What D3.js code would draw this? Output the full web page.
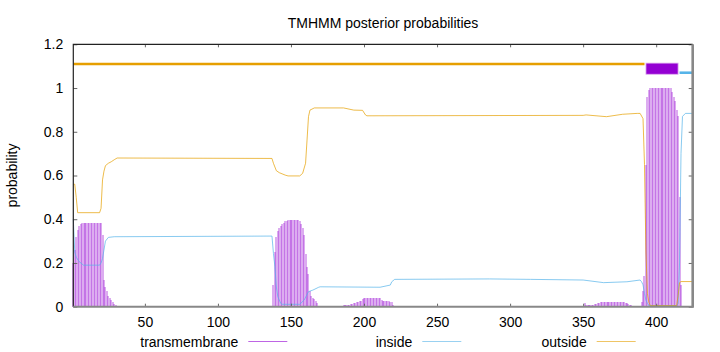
<!DOCTYPE html>
<html>
<head>
<meta charset="utf-8">
<script src="https://cdn.jsdelivr.net/npm/d3@7"></script>
<style>
  body { margin: 0; background: #fff; }
  svg { display: block; font-family: "Liberation Sans", Arial, sans-serif; }
</style>
</head>
<body>
<div id="chart"></div>
<script>
// posterior probability per residue (only residues where transmembrane > 0)
var transmembrane = [
  [1,.20],[2,.26],[3,.32],[4,.35],[5,.37],[6,.38],[7,.385],[8,.385],[9,.385],[10,.385],
  [11,.385],[12,.385],[13,.385],[14,.385],[15,.385],[16,.385],[17,.385],[18,.385],[19,.385],[20,.385],
  [21,.33],[22,.12],[23,.09],[24,.07],[25,.05],[26,.04],[27,.03],[28,.02],[29,.012],[30,.006],[31,.003],
  [138,.10],[139,.25],[140,.32],[141,.345],[142,.36],[143,.37],[144,.378],[145,.385],[146,.39],[147,.394],
  [148,.396],[149,.396],[150,.396],[151,.396],[152,.396],[153,.396],[154,.396],[155,.396],
  [156,.39],[157,.378],[158,.36],[159,.33],[160,.24],[161,.18],[162,.15],[163,.07],[164,.05],
  [165,.04],[166,.035],[167,.025],[168,.015],
  [182,.002],[183,.003],[184,.004],[185,.005],[186,.006],[187,.007],[188,.008],[189,.009],[190,.01],
  [191,.012],[192,.014],[193,.016],[194,.018],[195,.02],[196,.022],[197,.024],[198,.027],[199,.033],
  [200,.038],[201,.041],[202,.042],[203,.042],[204,.042],[205,.042],[206,.042],[207,.042],[208,.042],
  [209,.041],[210,.04],[211,.038],[212,.032],[213,.028],[214,.027],[215,.026],[216,.025],[217,.024],
  [218,.023],[219,.02],[220,.01],
  [338,.002],[339,.002],[340,.003],[341,.003],[342,.003],[343,.004],[344,.004],[345,.004],[346,.004],
  [347,.005],[348,.005],[349,.005],[350,.005],[351,.015],[352,.006],[353,.006],[354,.007],[355,.007],
  [356,.008],[357,.01],[358,.012],[359,.014],[360,.016],[361,.018],[362,.02],[363,.021],[364,.023],
  [365,.023],[366,.023],[367,.023],[368,.023],[369,.023],[370,.023],[371,.023],[372,.02],[373,.02],
  [374,.02],[375,.02],[376,.02],[377,.02],[378,.02],[379,.018],[380,.015],[381,.012],[382,.01],
  [383,.007],[384,.005],[385,.003],[386,.002],[387,.001],
  [389,.005],[390,.02],[391,.07],[392,.14],[393,.65],[394,.96],[395,.99],[396,1],[397,1],[398,1],
  [399,1],[400,1],[401,1],[402,1],[403,1],[404,1],[405,1],[406,1],[407,1],[408,1],[409,1],[410,1],
  [411,.98],[412,.96],[413,.94],[414,.9],[415,.87],[416,.5],[417,.1]
];

// inside / outside curves, read as [residue, probability]
var inside = [
  [1,.40],[2,.25],[3,.226],[5,.206],[8,.19],[19,.19],[20,.2],[21,.22],[23,.3],[25,.317],[29,.32],
  [137,.323],[138,.244],[139,.183],[140,.09],[141,.046],[143,.015],[144,.011],[156,.011],[159,.03],
  [162,.069],[165,.076],[169,.089],[170,.091],[211,.089],[218,.099],[219,.114],[221,.125],[286,.127],
  [314,.125],[350,.122],[364,.11],[380,.114],[389,.122],[390,.114],[391,.1],[392,.06],[393,.03],
  [394,.015],[395,.005],[414,.005],[415,.015],[416,.2],[417,.7],[418,.87],[420,.884],[425,.884]
];
var outside = [
  [1,.56],[2,.56],[3,.50],[4,.43],[19,.43],[20,.45],[21,.58],[22,.62],[23,.645],[25,.656],[27,.663],
  [29,.672],[31,.68],[137,.678],[138,.656],[140,.622],[142,.613],[146,.602],[148,.598],[156,.598],
  [158,.61],[160,.656],[161,.762],[162,.869],[163,.899],[166,.909],[186,.909],[193,.899],[199,.898],
  [201,.877],[202,.873],[350,.875],[352,.877],[366,.869],[377,.88],[387,.884],[389,.884],[391,.86],
  [392,.65],[393,.25],[394,.06],[395,.02],[396,.005],[414,.005],[415,.05],[416,.11],[417,.115],[425,.115]
];

// predicted topology: [label, first residue, last residue, level]
var topology = [["outside", 1, 392, 1.11], ["TMhelix", 393, 415, 1.09], ["inside", 416, 425, 1.07]];

var xTicks = [50, 100, 150, 200, 250, 300, 350, 400];
var yTicks = [0, 0.2, 0.4, 0.6, 0.8, 1, 1.2];
var legendNames = ["transmembrane", "inside", "outside"];

var colors = {transmembrane: "#9400d3", inside: "#56b4e9", outside: "#e69f00", TMhelix: "#9400d3"};

var W = 720, H = 352;
var plotL = 73.3, plotR = 692.7, plotT = 44.3, plotB = 306.7;

var svg = d3.select("#chart").append("svg")
  .attr("width", W)
  .attr("height", H);

var x = d3.scaleLinear().domain([1, 425]).range([plotL, plotR]);
var y = d3.scaleLinear().domain([0, 1.2]).range([plotB, plotT]);

//Title and axis label
svg.append("text")
  .attr("x", (plotL + plotR) / 2)
  .attr("y", 27.5)
  .attr("text-anchor", "middle")
  .style("font-size", "14px")
  .text("TMHMM posterior probabilities");

svg.append("text")
  .attr("transform", "translate(17," + ((plotT + plotB) / 2) + ") rotate(-90)")
  .attr("text-anchor", "middle")
  .style("font-size", "14px")
  .text("probability");

//Impulses (crisp, overlapping 2px lines give the striped look)
svg.append("g")
  .selectAll("line")
  .data(transmembrane)
  .enter()
  .append("line")
  .attr("x1", d => x(d[0]))
  .attr("x2", d => x(d[0]))
  .attr("y1", y(0))
  .attr("y2", d => y(d[1]))
  .attr("shape-rendering", "crispEdges")
  .style("stroke", colors.transmembrane)
  .style("stroke-width", 2)
  .style("opacity", 0.32);

//Lines
var line = d3.line().x(d => x(d[0])).y(d => y(d[1]));

svg.append("path")
  .attr("d", line(inside))
  .style("fill", "none")
  .style("stroke", colors.inside)
  .style("stroke-width", 1)
  .style("opacity", 0.7);

svg.append("path")
  .attr("d", line(outside))
  .style("fill", "none")
  .style("stroke", colors.outside)
  .style("stroke-width", 1)
  .style("opacity", 0.7);

//Topology bars on top
topology.forEach(function(t) {
  if (t[0] == "TMhelix") {
    svg.append("rect")
      .attr("x", x(t[1]))
      .attr("y", y(1.114))
      .attr("width", x(t[2]) - x(t[1]))
      .attr("height", y(1.063) - y(1.114))
      .style("fill", colors.TMhelix)
      .style("stroke", "#e0b0f0")
      .style("stroke-width", 0.8);
  } else {
    svg.append("line")
      .attr("x1", x(t[1]))
      .attr("x2", x(t[2]))
      .attr("y1", y(t[3]))
      .attr("y2", y(t[3]))
      .style("stroke", colors[t[0]])
      .style("stroke-width", 2.6);
  }
});

//Axes, ticks pointing in
var fmt = d => String(+d.toFixed(1));

svg.append("g")
  .attr("transform", "translate(" + plotL + ",0)")
  .call(d3.axisLeft(y).tickValues(yTicks).tickFormat(fmt).tickSizeInner(-4).tickSizeOuter(0).tickPadding(10));

svg.append("g")
  .attr("transform", "translate(" + plotR + ",0)")
  .call(d3.axisRight(y).tickValues(yTicks).tickFormat("").tickSizeInner(-4).tickSizeOuter(0));

svg.append("g")
  .attr("transform", "translate(0," + plotB + ")")
  .call(d3.axisBottom(x).tickValues(xTicks).tickFormat(d3.format("d")).tickSizeInner(-3).tickSizeOuter(0).tickPadding(10));

svg.append("g")
  .attr("transform", "translate(0," + plotT + ")")
  .call(d3.axisTop(x).tickValues(xTicks).tickFormat("").tickSizeInner(-3).tickSizeOuter(0));

svg.selectAll(".domain").remove();
svg.selectAll(".tick line").style("stroke", "#666");
svg.selectAll(".tick text")
  .style("font-size", "14px")
  .style("font-family", "'Liberation Sans', Arial, sans-serif")
  .style("fill", "#000");

//Border
svg.append("path")
  .attr("d", "M" + plotL + "," + plotB + "V" + plotT + "H" + plotR)
  .style("fill", "none")
  .style("stroke", "#222")
  .style("stroke-width", 1.2);
svg.append("line")
  .attr("x1", plotL).attr("x2", plotR)
  .attr("y1", plotB).attr("y2", plotB)
  .style("stroke", "#888")
  .style("stroke-width", 2);
svg.append("line")
  .attr("x1", plotR).attr("x2", plotR)
  .attr("y1", plotT).attr("y2", plotB + 1)
  .style("stroke", "#888")
  .style("stroke-width", 2.6);

//Legend
var legendEnds = [238.3, 412.3, 586.7];
var key = svg.append("g").selectAll("g")
  .data(legendNames)
  .enter()
  .append("g");

key.append("text")
  .attr("x", (d, i) => legendEnds[i])
  .attr("y", 346.5)
  .attr("text-anchor", "end")
  .style("font-size", "14px")
  .text(d => d);

key.append("line")
  .attr("x1", (d, i) => legendEnds[i] + 10)
  .attr("x2", (d, i) => legendEnds[i] + 49)
  .attr("y1", 341.5)
  .attr("y2", 341.5)
  .style("stroke", d => colors[d])
  .style("stroke-width", 1)
  .style("opacity", 0.6);
</script>
</body>
</html>
